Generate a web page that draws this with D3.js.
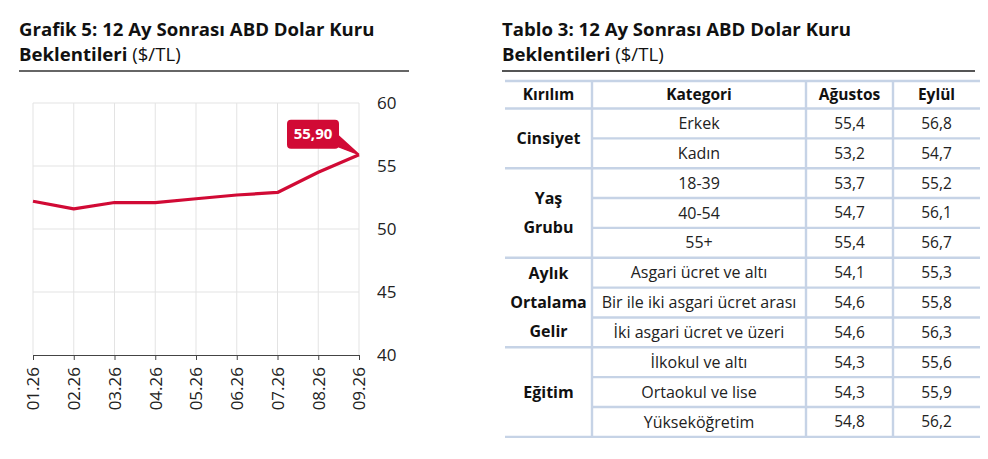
<!DOCTYPE html>
<html><head><meta charset="utf-8">
<script src="https://cdn.jsdelivr.net/npm/d3@7"></script>
<style>
body{margin:0;background:#fff;}
svg{display:block;font-family:"Open Sans",sans-serif;}
</style></head><body>
<svg id="c" width="988" height="459"></svg>
<script>
// ---- data ----
const months = ["01.26","02.26","03.26","04.26","05.26","06.26","07.26","08.26","09.26"];
const usdExpectation = [52.2, 51.6, 52.1, 52.1, 52.4, 52.7, 52.9, 54.5, 55.9];
const yTicks = [40, 45, 50, 55, 60];
const lastLabel = "55,90";

const tableHeaders = ["Kırılım", "Kategori", "Ağustos", "Eylül"];
const groupNames = [["Cinsiyet"], ["Yaş", "Grubu"], ["Aylık", "Ortalama", "Gelir"], ["Eğitim"]];
const groupSizes = [2, 3, 3, 3];
const categories = ["Erkek","Kadın","18-39","40-54","55+","Asgari ücret ve altı","Bir ile iki asgari ücret arası","İki asgari ücret ve üzeri","İlkokul ve altı","Ortaokul ve lise","Yükseköğretim"];
const august = ["55,4","53,2","53,7","54,7","55,4","54,1","54,6","54,6","54,3","54,3","54,8"];
const september = ["56,8","54,7","55,2","56,1","56,7","55,3","55,8","56,3","55,6","55,9","56,2"];

const svg = d3.select("#c");
const red = "#d10a35";

// ---- titles ----
function title(x, l1, l2b, l2n){
  svg.append("text").attr("x",x).attr("y",35.5).attr("font-size",18.6).attr("font-weight",700).attr("fill","#111").text(l1);
  const t = svg.append("text").attr("x",x).attr("y",61).attr("font-size",18.6).attr("fill","#111");
  t.append("tspan").attr("font-weight",700).text(l2b);
  t.append("tspan").attr("font-weight",400).text(l2n);
}
title(19, "Grafik 5: 12 Ay Sonrası ABD Dolar Kuru", "Beklentileri", " ($/TL)");
title(502, "Tablo 3: 12 Ay Sonrası ABD Dolar Kuru", "Beklentileri", " ($/TL)");
svg.append("line").attr("x1",19).attr("x2",409).attr("y1",71).attr("y2",71).attr("stroke","#666").attr("stroke-width",2);
svg.append("line").attr("x1",502).attr("x2",975).attr("y1",71).attr("y2",71).attr("stroke","#555").attr("stroke-width",2);

// ---- chart ----
const x = d3.scalePoint().domain(months).range([33, 359]);
const y = d3.scaleLinear().domain([40, 60]).range([355, 103]);

const g = svg.append("g");
g.selectAll(".vg").data(months).join("line")
  .attr("x1",d=>x(d)).attr("x2",d=>x(d)).attr("y1",y(60)).attr("y2",y(40))
  .attr("stroke","#e3e3e3").attr("stroke-width",1);
g.selectAll(".hg").data(yTicks.filter(t=>t>40)).join("line")
  .attr("x1",33).attr("x2",359).attr("y1",d=>y(d)).attr("y2",d=>y(d))
  .attr("stroke","#e3e3e3").attr("stroke-width",1);

// y axis on right (labels only)
const ya = svg.append("g").attr("transform","translate(359,0)")
  .call(d3.axisRight(y).tickValues(yTicks).tickSize(0).tickPadding(18));
ya.select(".domain").remove();
ya.selectAll("text").attr("font-size",17).attr("fill","#222").attr("font-family","Open Sans");

// x axis
const xa = svg.append("g").attr("transform","translate(0,355)")
  .call(d3.axisBottom(x).tickSize(5).tickSizeOuter(0));
xa.select(".domain").attr("stroke","#444").attr("stroke-width",1.2);
xa.selectAll(".tick line").attr("stroke","#444");
xa.selectAll("text").attr("font-size",17).attr("fill","#222").attr("font-family","Open Sans")
  .attr("transform","rotate(-90)").attr("text-anchor","end")
  .attr("x",-12).attr("y",0).attr("dy","0.35em");

// line
const line = d3.line().x((d,i)=>x(months[i])).y(d=>y(d));
svg.append("path").datum(usdExpectation).attr("d",line)
  .attr("fill","none").attr("stroke",red).attr("stroke-width",3.2).attr("stroke-linejoin","round");

// callout label
const lx = x(months[months.length-1]), lyv = y(usdExpectation[usdExpectation.length-1]);
const bx = lx-72, by = lyv-35, bw = 52, bh = 29;
svg.append("path").attr("d",`M${bx+bw-6},${by+bh-4} L${lx},${lyv} L${bx+bw-2},${by+bh-14}`)
  .attr("fill",red).attr("stroke",red).attr("stroke-width",1.5);
svg.append("rect").attr("x",bx).attr("y",by).attr("width",bw).attr("height",bh).attr("rx",4)
  .attr("fill",red);
svg.append("text").attr("x",bx+bw/2).attr("y",by+bh/2).attr("dy","0.35em").attr("text-anchor","middle")
  .attr("font-size",15).attr("font-weight",700).attr("fill","#fff").text(lastLabel);

// ---- table ----
const colX = [505, 592, 806, 893, 980];
const headTop = 81, headBot = 108.5, rowH = 29.85;
const nRows = categories.length;
const rowTop = i => headBot + i*rowH;
const bottom = rowTop(nRows);
const lineCol = "#c6d3e6";
const T = svg.append("g");

// header text
T.selectAll(".hd").data(tableHeaders).join("text")
  .attr("x",(d,i)=>(colX[i]+colX[i+1])/2).attr("y",(headTop+headBot)/2).attr("dy","0.35em")
  .attr("text-anchor","middle").attr("font-size",15.5).attr("font-weight",700).attr("fill","#111").text(d=>d);

// row text
const rows = categories.map((c,i)=>[c, august[i], september[i]]);
rows.forEach((r,i)=>{
  T.selectAll(null).data(r).join("text")
    .attr("x",(d,j)=>(colX[j+1]+colX[j+2])/2).attr("y",rowTop(i)+rowH/2).attr("dy","0.35em")
    .attr("text-anchor","middle").attr("font-size",(d,j)=>j===0?16:15.5).attr("fill","#222").text(d=>d);
});

// group labels
let start = 0;
const groupStarts = [];
groupSizes.forEach((n,k)=>{
  groupStarts.push(start);
  const names = groupNames[k];
  const cy = rowTop(start) + n*rowH/2;
  const lh = rowH*0.98;
  names.forEach((nm,m)=>{
    T.append("text").attr("x",(colX[0]+colX[1])/2).attr("y",cy + (m-(names.length-1)/2)*lh).attr("dy","0.35em")
      .attr("text-anchor","middle").attr("font-size",16).attr("font-weight",700).attr("fill","#111").text(nm);
  });
  start += n;
});

// horizontal lines
const hlines = [{y:headTop,x1:colX[0]},{y:headBot,x1:colX[0]}];
for(let i=1;i<=nRows;i++){
  const isGroup = groupStarts.includes(i) || i===nRows;
  hlines.push({y:rowTop(i), x1: isGroup ? colX[0] : colX[1]});
}
T.selectAll(".hl").data(hlines).join("line")
  .attr("x1",d=>d.x1).attr("x2",colX[4]).attr("y1",d=>d.y).attr("y2",d=>d.y)
  .attr("stroke",lineCol).attr("stroke-width",2.4);
// vertical lines
T.selectAll(".vl").data(colX.slice(1,4)).join("line")
  .attr("x1",d=>d).attr("x2",d=>d).attr("y1",headTop).attr("y2",bottom)
  .attr("stroke",lineCol).attr("stroke-width",2.4);
</script>
</body></html>
